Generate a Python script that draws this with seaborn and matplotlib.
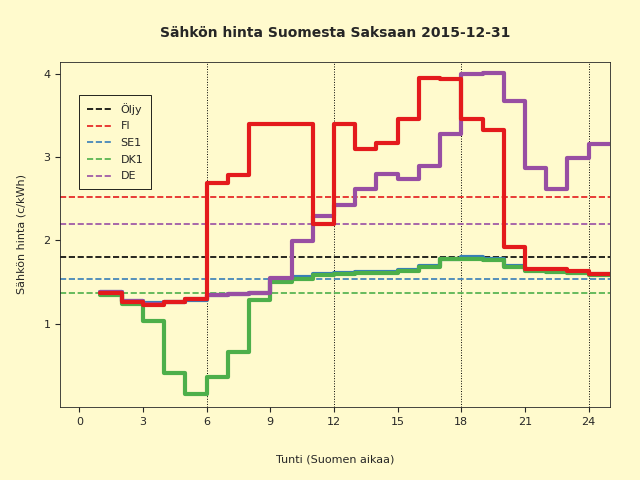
import numpy as np
import seaborn as sns
import matplotlib.pyplot as plt

sns.set_style("ticks")
plt.rcParams['font.family'] = ['DejaVu Sans']

hours = np.arange(1, 26)
fi = [1.37, 1.26, 1.23, 1.26, 1.30, 2.69, 2.78, 3.40, 3.40, 3.40, 2.19, 3.40, 3.10, 3.17,
      3.45, 3.95, 3.93, 3.45, 3.32, 1.92, 1.65, 1.65, 1.63, 1.60]
de = [1.38, 1.27, 1.24, 1.26, 1.30, 1.35, 1.36, 1.37, 1.55, 1.99, 2.29, 2.42, 2.61, 2.80,
      2.74, 2.89, 3.27, 3.99, 4.01, 3.67, 2.87, 2.61, 2.99, 3.15]
se1 = [1.38, 1.27, 1.25, 1.26, 1.29, 1.34, 1.36, 1.37, 1.53, 1.56, 1.59, 1.61, 1.62, 1.62,
       1.64, 1.69, 1.78, 1.80, 1.77, 1.69, 1.64, 1.63, 1.62, 1.60]
dk1 = [1.34, 1.24, 1.03, 0.41, 0.16, 0.36, 0.66, 1.28, 1.50, 1.54, 1.58, 1.60, 1.61, 1.61,
       1.63, 1.68, 1.77, 1.78, 1.76, 1.68, 1.63, 1.62, 1.61, 1.58]
means = {"Öljy": 1.80, "FI": 2.52, "SE1": 1.53, "DK1": 1.37, "DE": 2.19}
colors = {"Öljy": "black", "FI": "#E41A1C", "SE1": "#377EB8", "DK1": "#4DAF4A", "DE": "#984EA3"}

bg = "#FFFACD"
fig, ax = plt.subplots(figsize=(6.4, 4.8), dpi=100)
fig.patch.set_facecolor(bg)
ax.set_facecolor(bg)

for v in [6, 12, 18, 24]:
    ax.axvline(v, color="black", ls=":", lw=0.7)
for name in ["Öljy", "FI", "SE1", "DK1", "DE"]:
    ax.axhline(means[name], color=colors[name], ls="--", lw=1.2, label=name)

for name, vals in [("SE1", se1), ("DK1", dk1), ("DE", de), ("FI", fi)]:
    y = list(vals) + [vals[-1]]
    sns.lineplot(x=hours, y=y, drawstyle="steps-post", color=colors[name], lw=3,
                 ax=ax, legend=False)

ax.set_xlim(-0.9, 25)
ax.set_ylim(0, 4.14)
ax.set_xticks(range(0, 25, 3))
ax.set_yticks([1, 2, 3, 4])
ax.tick_params(labelsize=8)
ax.set_xlabel("Tunti (Suomen aikaa)", fontsize=8, labelpad=20)
ax.set_ylabel("Sähkön hinta (c/kWh)", fontsize=8, labelpad=12)
ax.set_title("Sähkön hinta Suomesta Saksaan 2015-12-31", fontsize=10, fontweight="bold", pad=18)
for s in ax.spines.values():
    s.set_visible(True)
    s.set_linewidth(0.6)
leg = ax.legend(loc="upper left", bbox_to_anchor=(0.025, 0.92), fontsize=8,
                fancybox=False, edgecolor="black", facecolor=bg, framealpha=1,
                handlelength=2.2, labelspacing=0.6, borderpad=0.7)
leg.get_frame().set_linewidth(0.6)
plt.subplots_adjust(left=0.094, right=0.953, bottom=0.152, top=0.871)
plt.savefig("out.png", dpi=100, facecolor=bg)
